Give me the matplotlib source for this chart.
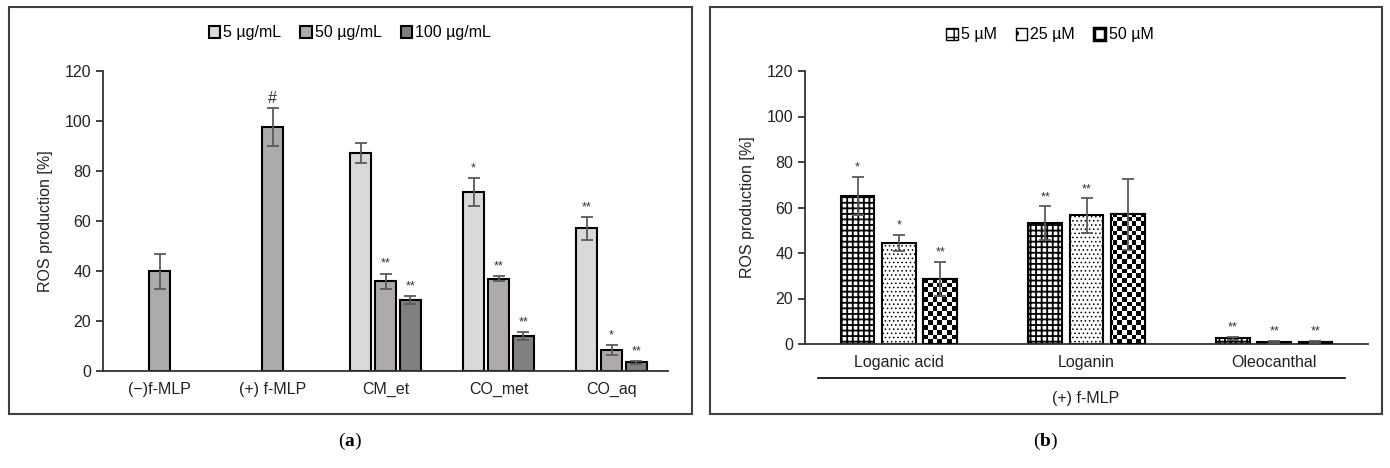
import numpy as np
import matplotlib
matplotlib.use("Agg")
import matplotlib.pyplot as plt
from matplotlib.patches import Rectangle
from matplotlib.lines import Line2D

plt.rcParams["font.family"] = ["Liberation Sans", "DejaVu Sans"]
plt.rcParams["hatch.linewidth"] = 1.0
plt.rcParams["mathtext.fontset"] = "custom"
plt.rcParams["mathtext.rm"] = "Liberation Serif"
plt.rcParams["mathtext.bf"] = "Liberation Serif:bold"

# ---- panel (a) data ----
groups_a = ["(\u2212)f-MLP", "(+) f-MLP", "CM_et", "CO_met", "CO_aq"]
series_a = ["5 \u00b5g/mL", "50 \u00b5g/mL", "100 \u00b5g/mL"]
ctrl_vals = [40, 97.5]
ctrl_err = [7, 7.5]
ctrl_marks = ["", "#"]
ext_vals = [[87, 71.5, 57],
            [36, 37, 8.5],
            [28.5, 14, 3.5]]
ext_err = [[4, 5.5, 4.5],
           [3, 1, 2],
           [1.5, 1.5, 0.5]]
ext_marks = [["", "*", "**"],
             ["**", "**", "*"],
             ["**", "**", "**"]]
colors_a = ["#d9d9d9", "#aeaaaa", "#808080"]

# ---- panel (b) data ----
groups_b = ["Loganic acid", "Loganin", "Oleocanthal"]
series_b = ["5 \u00b5M", "25 \u00b5M", "50 \u00b5M"]
vals_b = [[65, 53, 2.5],
          [44.5, 56.5, 1],
          [28.5, 57, 1]]
err_b = [[8.5, 7.5, 0.6],
         [3.5, 7.5, 0.4],
         [7.5, 15.5, 0.5]]
marks_b = [["*", "**", "**"],
           ["*", "**", "**"],
           ["**", "", "**"]]

W, H = 1390, 468
fig = plt.figure(figsize=(W / 100, H / 100), dpi=100)


def px_axes(x0, x1, ytop, ybot):
    return fig.add_axes([x0 / W, 1 - ybot / H, (x1 - x0) / W, (ybot - ytop) / H])


# panel frames
for x0, x1 in [(9, 692), (710, 1382)]:
    fig.patches.append(Rectangle((x0 / W, 1 - 414 / H), (x1 - x0) / W, (414 - 7) / H,
                                 transform=fig.transFigure, fill=False,
                                 edgecolor="#404040", lw=1.5))

ekw = dict(ecolor="#5a5a5a", elinewidth=1.3, capsize=4.5, capthick=1.3)
bw = 0.18
off = 0.22


def style(ax):
    ax.set_ylim(0, 120)
    ax.set_yticks(range(0, 121, 20))
    for s in ["top", "right"]:
        ax.spines[s].set_visible(False)
    for s in ["left", "bottom"]:
        ax.spines[s].set_color("#333333")
        ax.spines[s].set_linewidth(1.3)
    ax.tick_params(axis="y", direction="out", length=5, width=1.3, labelsize=11.5,
                   colors="#333333", labelcolor="#222222")
    ax.tick_params(axis="x", length=0, labelsize=11.5, labelcolor="#222222", pad=8)
    ax.set_ylabel("ROS production [%]", fontsize=11.5, color="#222222", labelpad=8)


# ---- panel (a) ----
axa = px_axes(103, 668, 71, 371)
xa = np.arange(len(groups_a))
for i in range(2):
    axa.bar(xa[i], ctrl_vals[i], bw, color=colors_a[1], edgecolor="black", lw=1.5,
            yerr=ctrl_err[i], error_kw=ekw)
    if ctrl_marks[i]:
        axa.text(xa[i], ctrl_vals[i] + ctrl_err[i] + 1, ctrl_marks[i], ha="center",
                 va="bottom", fontsize=11.5, color="#333333")
for j in range(3):
    pos = xa[2:] + (j - 1) * off
    axa.bar(pos, ext_vals[j], bw, color=colors_a[j], edgecolor="black", lw=1.5,
            yerr=ext_err[j], error_kw=ekw, label=series_a[j])
    for p, v, e, m in zip(pos, ext_vals[j], ext_err[j], ext_marks[j]):
        if m:
            axa.text(p, v + e + 1.5, m, ha="center", va="bottom", fontsize=9,
                     color="#333333")
axa.set_xlim(-0.5, 4.5)
axa.set_xticks(xa)
axa.set_xticklabels(groups_a)
style(axa)
axa.legend(loc="center", bbox_to_anchor=(350 / W, 1 - 33 / H),
           bbox_transform=fig.transFigure, ncol=3, frameon=False, fontsize=11.5,
           handlelength=0.7, handleheight=0.7, handletextpad=0.2, columnspacing=1.2,
           borderaxespad=0)

# ---- panel (b) ----
axb = px_axes(805, 1368, 71, 344)
xb = np.arange(len(groups_b))
axb.set_xlim(-0.5, 2.5)
style(axb)
hatches = ["+++", "....", None]
hatch_lw = [1.3, 0.6, 1.0]
bars_b = []
for j in range(3):
    pos = xb + (j - 1) * off
    bars = axb.bar(pos, vals_b[j], bw, color="white", edgecolor="black", lw=1.5,
                   hatch=hatches[j], yerr=err_b[j], error_kw=ekw, label=series_b[j],
                   zorder=2)
    for b in bars:
        if hasattr(b, "set_hatch_linewidth"):
            b.set_hatch_linewidth(hatch_lw[j])
    bars_b.append(bars)
    for p, v, e, m in zip(pos, vals_b[j], err_b[j], marks_b[j]):
        if m:
            axb.text(p, v + e + 1.5, m, ha="center", va="bottom", fontsize=9,
                     color="#333333")

# checkerboard fill for the 50 uM bars
nx, ny = int(563 / 4.7), int(273 / 4.7)
checker = (np.add.outer(np.arange(ny), np.arange(nx)) % 2).astype(float)
for b in bars_b[2]:
    im = axb.imshow(checker, cmap="gray", extent=(-0.5, 2.5, 0, 120),
                    origin="lower", aspect="auto", interpolation="nearest",
                    zorder=2.5, vmin=0, vmax=1)
    im.set_clip_path(b)
    edge = Rectangle(b.get_xy(), b.get_width(), b.get_height(), fill=False,
                     edgecolor="black", lw=1.5, zorder=2.6)
    axb.add_patch(edge)
axb.set_xlim(-0.5, 2.5)
axb.set_ylim(0, 120)
axb.set_xticks(xb)
axb.set_xticklabels(groups_b)
for line in axb.lines:
    line.set_zorder(3)
for c in axb.collections:
    c.set_zorder(3)

hb = [Rectangle((0, 0), 1, 1, facecolor="white", edgecolor="black", hatch="++"),
      Rectangle((0, 0), 1, 1, facecolor="white", edgecolor="black", hatch="."),
      Rectangle((0, 0), 1, 1, facecolor="white", edgecolor="black", lw=2.5)]
axb.legend(hb, series_b, loc="center", bbox_to_anchor=(1050 / W, 1 - 35 / H),
           bbox_transform=fig.transFigure, ncol=3, frameon=False, fontsize=11.5,
           handlelength=0.7, handleheight=0.7, handletextpad=0.2, columnspacing=1.2,
           borderaxespad=0)

# bracket under the groups
fig.add_artist(Line2D([818 / W, 1345 / W], [1 - 378 / H, 1 - 378 / H],
                      transform=fig.transFigure, color="black", lw=1.2))
fig.text(1086 / W, 1 - 398 / H, "(+) f-MLP", ha="center", va="center", fontsize=11.5,
         color="#222222")

# panel letters
fig.text(350 / W, 1 - 441 / H, r"($\mathbf{a}$)", ha="center", va="center", fontsize=14,
         family="Liberation Serif")
fig.text(1046 / W, 1 - 441 / H, r"($\mathbf{b}$)", ha="center", va="center", fontsize=14,
         family="Liberation Serif")

fig.savefig("out.png", dpi=100)
